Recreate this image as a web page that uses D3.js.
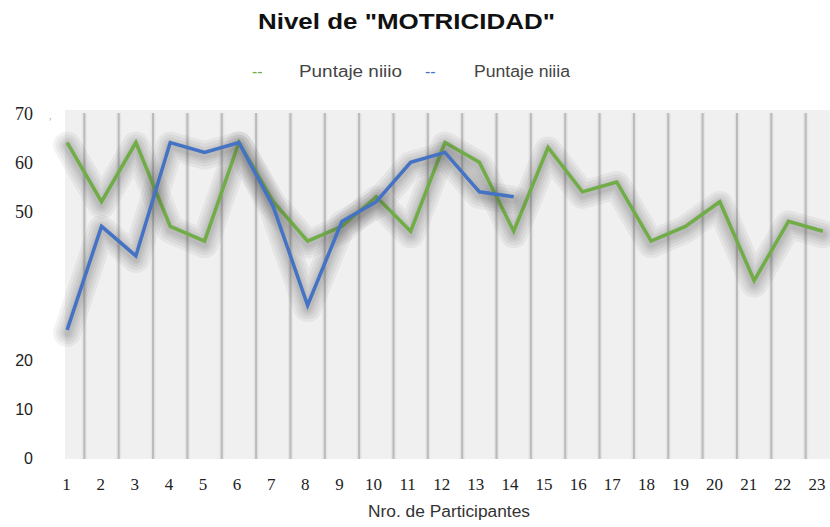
<!DOCTYPE html>
<html lang="es">
<head>
  <meta charset="UTF-8">
  <script src="https://d3js.org/d3.v7.min.js"></script>
  <style>
body { margin: 0; background: #fff; }
.title { font: bold 22px "Liberation Sans", Arial, sans-serif; fill: #111; }
.legend text { font: 16px "Liberation Sans", Arial, sans-serif; fill: #444; }
.xlab { font: 16px "Liberation Sans", Arial, sans-serif; fill: #333; }
</style>
</head>
<body>
<svg width="830" height="527"></svg>
<script>
const participantes = d3.range(1, 24);
const puntajeNino = [64, 52, 64, 47, 44, 64, 52, 44, 47, 53, 46, 64, 60, 46, 63, 54, 56, 44, 47, 52, 36, 48, 46];
const puntajeNina = [26, 47, 41, 64, 62, 64, 51, 31, 48, 52, 60, 62, 54, 53];
const yTicks = [0, 10, 20, 50, 60, 70];
const serieNombres = ["Puntaje niiio", "Puntaje niiia"];
const colores = ["#70ad47", "#4472c4"];

const svg = d3.select("svg");

const x = d3.scaleBand().domain(participantes).range([50, 840]);
const xLab = d3.scaleBand().domain(participantes).range([49.5, 834]);
const y = d3.scaleLinear().domain([0, 70]).range([458, 113]);
const cx = d => x(d) + x.bandwidth() / 2;

// fondo del area
svg.append("rect").attr("x", 65).attr("y", 110)
  .attr("width", 765).attr("height", 349).attr("fill", "#f0f0f0");

// lineas verticales entre participantes (halo claro + linea)
const grid = svg.append("g");
[[5, "#e5e5e5"], [2, "#bababa"]].forEach(([w, c]) => {
  grid.append("g").selectAll("line")
    .data(participantes.slice(1))
    .join("line")
    .attr("x1", d => x(d)).attr("x2", d => x(d))
    .attr("y1", 113).attr("y2", 459)
    .attr("stroke", c).attr("stroke-width", w);
});

// titulo
svg.append("text").attr("class", "title")
  .attr("x", 258).attr("y", 29)
  .attr("textLength", 297).attr("lengthAdjust", "spacingAndGlyphs")
  .text('Nivel de "MOTRICIDAD"');

// leyenda
const leg = svg.append("g").attr("class", "legend");
const legX = [[252, 299, 103], [425, 474, 96]];
serieNombres.forEach((n, i) => {
  leg.append("text").attr("x", legX[i][0]).attr("y", 77)
    .style("fill", colores[i]).text("--");
  leg.append("text").attr("x", legX[i][1]).attr("y", 77)
    .attr("textLength", legX[i][2]).attr("lengthAdjust", "spacingAndGlyphs")
    .text(n);
});

// eje y
const yAxis = svg.append("g").attr("transform", "translate(33,0)")
  .call(d3.axisLeft(y).tickValues(yTicks).tickSize(0).tickPadding(0));
yAxis.select(".domain").remove();
yAxis.selectAll("text")
  .attr("dy", "0.35em")
  .style("font-family", d => d >= 50 ? "'Liberation Serif', serif" : "'Liberation Sans', Arial, sans-serif")
  .style("font-size", d => d >= 50 ? "18px" : "16px")
  .attr("fill", "#222");
svg.append("text").attr("x", 49).attr("y", 119).attr("fill", "#aaa")
  .style("font", "10px 'Liberation Serif', serif").text(",");

// eje x
const xAxis = svg.append("g").attr("transform", "translate(0,459)")
  .call(d3.axisBottom(xLab).tickSize(0).tickPadding(0));
xAxis.select(".domain").remove();
xAxis.selectAll("text")
  .attr("y", 31).attr("dy", 0)
  .style("font", "17px 'Liberation Serif', serif")
  .attr("fill", "#222");

svg.append("text").attr("class", "xlab")
  .attr("x", 368).attr("y", 517)
  .attr("textLength", 162).attr("lengthAdjust", "spacingAndGlyphs")
  .text("Nro. de Participantes");

// series con sombra difusa (capas anchas y transparentes)
const linea = d3.line().x((d, i) => cx(participantes[i])).y(d => y(d));
[puntajeNino, puntajeNina].forEach((serie, i) => {
  const g = svg.append("g");
  [28, 22, 16, 11, 7].forEach(w => {
    g.append("path").datum(serie)
      .attr("d", linea)
      .attr("transform", "translate(0,3)")
      .attr("fill", "none")
      .attr("stroke", "#555")
      .attr("stroke-opacity", 0.075)
      .attr("stroke-width", w)
      .attr("stroke-linejoin", "round")
      .attr("stroke-linecap", "round");
  });
  g.append("path").datum(serie)
    .attr("d", linea)
    .attr("fill", "none")
    .attr("stroke", colores[i])
    .attr("stroke-width", 3.5);
});
</script>
</body>
</html>
